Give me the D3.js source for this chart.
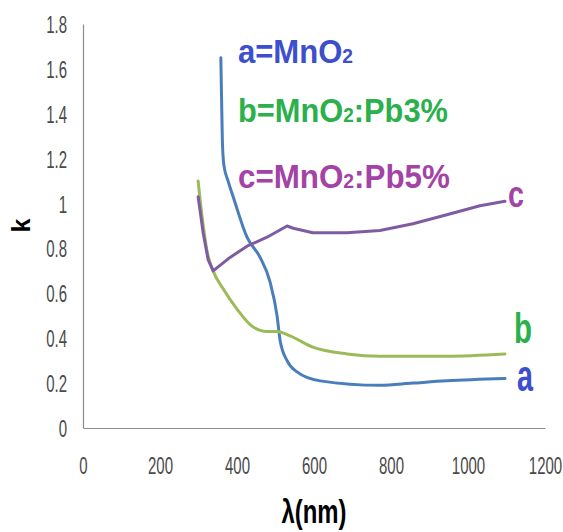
<!DOCTYPE html>
<html><head><meta charset="utf-8">
<script src="https://cdn.jsdelivr.net/npm/d3@7/dist/d3.min.js"></script>
<style>body{margin:0;background:#fff;} svg{display:block;}</style>
</head><body>
<svg id="chart" width="563" height="532"></svg>
<script>
// ---- data ----
const aX = [358,360,362,366,377,392,426,460,486,504,512,530,556,616,771,857,945,1096];
const aK = [1.65,1.46,1.28,1.17,1.10,1.02,0.85,0.76,0.65,0.50,0.39,0.30,0.25,0.21,0.19,0.20,0.21,0.22];
const bX = [299,304,314,322,338,364,400,442,478,504,538,597,686,771,945,1096];
const bK = [1.10,1.02,0.88,0.79,0.70,0.62,0.53,0.45,0.43,0.43,0.41,0.36,0.33,0.32,0.32,0.33];
const cX = [299,304,312,325,338,382,426,478,530,546,597,686,771,857,945,1031,1096];
const cK = [1.03,0.97,0.87,0.75,0.70,0.76,0.81,0.85,0.90,0.89,0.87,0.87,0.88,0.91,0.95,0.99,1.01];
const seriesLetters = ["a","b","c"];
const legendMain = ["a=MnO","b=MnO","c=MnO"];
const legendTail = ["",":Pb3%",":Pb5%"];
const xTicks = [0,200,400,600,800,1000,1200];
const yTicks = [0,0.2,0.4,0.6,0.8,1,1.2,1.4,1.6,1.8];
const xTitle = "λ(nm)";
const yTitle = "k";

const FONT = "'Liberation Sans', Arial, sans-serif";
const svg = d3.select("#chart");
const x = d3.scaleLinear().domain([0,1200]).range([83,545]);
const y = d3.scaleLinear().domain([0,1.8]).range([428,24]);

function squeeze(sel, targetW, tx, ty, anchor){
  sel.each(function(){
    const w = this.getComputedTextLength();
    const s = targetW / w;
    d3.select(this).attr("x",0).attr("y",0).attr("dy",null)
      .attr("text-anchor", anchor||"start")
      .attr("transform", `translate(${tx},${ty}) scale(${s},1)`);
  });
}

// axes
const gx = svg.append("g").attr("transform",`translate(0,${y(0)})`)
  .call(d3.axisBottom(x).tickValues(xTicks).tickSize(0).tickFormat(d3.format("d")));
const gy = svg.append("g").attr("transform",`translate(${x(0)},0)`)
  .call(d3.axisLeft(y).tickValues(yTicks).tickSize(0).tickFormat(d => String(+d.toFixed(1))));
[gx,gy].forEach(g=>{
  g.select(".domain").attr("stroke","#8c8c8c").attr("stroke-width",1.2);
  g.selectAll("text").attr("font-family",FONT).attr("font-size",24).attr("fill","#4a4a4a");
});
let sx = 0.62;
gx.selectAll(".tick text").filter(d=>d===200).each(function(){ sx = 25/this.getComputedTextLength(); });
gx.selectAll(".tick text").each(function(){
  d3.select(this).attr("x",0).attr("y",0).attr("dy",null).attr("text-anchor","middle")
    .attr("transform",`translate(0,46) scale(${sx},1)`);
});
gy.selectAll(".tick text").each(function(){
  d3.select(this).attr("x",0).attr("y",0).attr("dy",null).attr("text-anchor","end")
    .attr("transform",`translate(-16,8.5) scale(${sx},1)`);
});

// lines
const series = [
  {xs:aX, ks:aK, color:"#4a7ebb", curve:d3.curveMonotoneX},
  {xs:bX, ks:bK, color:"#9bbb59", curve:d3.curveMonotoneX},
  {xs:cX, ks:cK, color:"#7f5ca1", curve:d3.curveLinear}
];
series.forEach(s=>{
  const pts = s.xs.map((v,i)=>[v,s.ks[i]]);
  svg.append("path").datum(pts)
    .attr("fill","none").attr("stroke",s.color).attr("stroke-width",3)
    .attr("stroke-linejoin","round").attr("stroke-linecap","round")
    .attr("d", d3.line().x(d=>x(d[0])).y(d=>y(d[1])).curve(s.curve));
});

// axis titles
svg.append("text").text(xTitle).attr("font-family",FONT).attr("font-weight","bold")
  .attr("font-size",33).attr("fill","#000")
  .call(squeeze, 65, 314, 523, "middle");
svg.append("text").text(yTitle).attr("font-family",FONT).attr("font-weight","bold")
  .attr("font-size",25).attr("fill","#000").attr("text-anchor","middle")
  .attr("transform","translate(30,225.5) rotate(-90)");

// legend block
const legendColors = ["#3d4fcc","#2bb04b","#a343a5"];
const legendBase = [63,122,188];
const legendW = [115,210,212];
legendMain.forEach((m,i)=>{
  const t = svg.append("text").attr("font-family",FONT).attr("font-weight","bold")
    .attr("font-size",34).attr("fill",legendColors[i]);
  t.append("tspan").text(m);
  t.append("tspan").attr("font-size",21).text("2");
  if (legendTail[i]) t.append("tspan").text(legendTail[i]);
  t.call(squeeze, legendW[i], 238, legendBase[i], "start");
});

// end labels
const endLbl = [
  {t:"a", size:44, x:517, base:391, w:16, color:"#3d4fcc"},
  {t:"b", size:42, x:514, base:343, w:18, color:"#2bb04b"},
  {t:"c", size:36, x:508, base:207, w:16, color:"#a343a5"}
];
endLbl.forEach(l=>{
  svg.append("text").text(l.t).attr("font-family",FONT).attr("font-weight","bold")
    .attr("font-size",l.size).attr("fill",l.color)
    .call(squeeze, l.w, l.x, l.base, "start");
});
</script>
</body></html>
